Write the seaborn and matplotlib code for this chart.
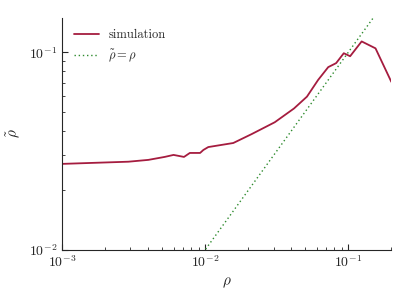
import matplotlib
matplotlib.use("Agg")
import matplotlib.pyplot as plt
import seaborn as sns
import pandas as pd

# values (log-log)
rho = [0.001, 0.0029, 0.004, 0.0052, 0.006, 0.0071, 0.0078, 0.0092, 0.0097, 0.0105,
       0.0157, 0.0211, 0.0306, 0.0417, 0.0514, 0.0615, 0.0724, 0.0822, 0.093, 0.103,
       0.124, 0.155, 0.2]
rho_tilde = [0.0272, 0.0279, 0.0285, 0.0295, 0.0302, 0.0295, 0.0309, 0.0309, 0.032, 0.0331,
             0.0347, 0.0385, 0.0442, 0.0519, 0.0596, 0.0724, 0.0841, 0.0881, 0.0989, 0.0955,
             0.1135, 0.1047, 0.0708]
diag = [0.001, 0.2]

sns.set_style("ticks")
plt.rcParams["font.family"] = ["cmr10", "DejaVu Serif"]
plt.rcParams["mathtext.fontset"] = "cm"
plt.rcParams["axes.formatter.use_mathtext"] = True
plt.rcParams["axes.unicode_minus"] = False

df = pd.DataFrame({"rho": rho, "rho_tilde": rho_tilde})

fig, ax = plt.subplots(figsize=(4.15, 2.92), dpi=100)
sns.lineplot(data=df, x="rho", y="rho_tilde", ax=ax, color="#a51c3f", lw=1.3,
             label="simulation")
sns.lineplot(x=diag, y=diag, ax=ax, color="#2e8b2e", lw=1.0, linestyle=(0, (1, 2)),
             label=r"$\tilde{\rho} = \rho$")
ax.set_xscale("log")
ax.set_yscale("log")
ax.set_xlim(1e-3, 0.2)
ax.set_ylim(1e-2, 0.15)
ax.set_xlabel(r"$\rho$", fontsize=11)
ax.set_ylabel(r"$\tilde{\rho}$", fontsize=11)
ax.tick_params(which="both", direction="in", labelsize=10)
ax.tick_params(which="major", length=4)
ax.tick_params(which="minor", length=2)
sns.despine(ax=ax)
ax.legend(loc="upper left", frameon=False, fontsize=9, handlelength=2)

fig.subplots_adjust(left=0.15, right=0.943, bottom=0.145, top=0.94)
fig.savefig("out.png", dpi=100)
